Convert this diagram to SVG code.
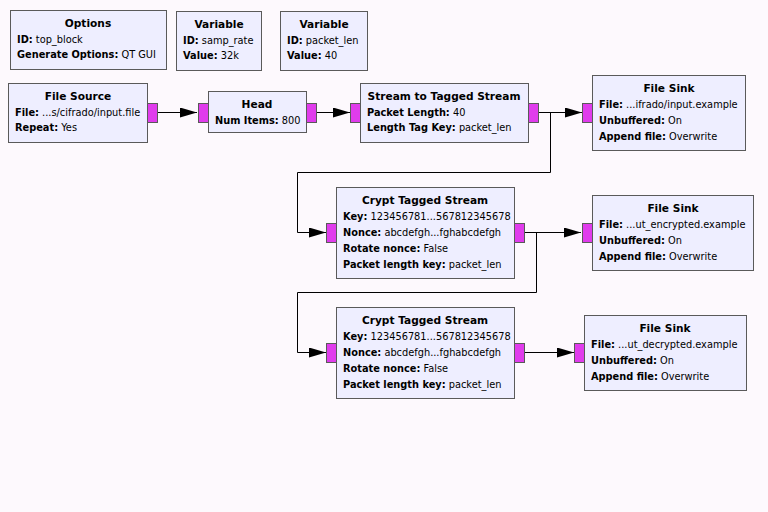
<svg xmlns="http://www.w3.org/2000/svg" width="768" height="512" viewBox="0 0 768 512">
<style>
.blk{fill:#eeeeff;stroke:#5a5a5a;stroke-width:1}
.port{fill:#e03cec;stroke:#5a5a5a;stroke-width:1}
text{font-family:"DejaVu Sans",sans-serif;font-size:9.8px;fill:#000}
.t{font-weight:bold;text-anchor:middle;font-size:10.6px}
.b{font-weight:bold}
.w{fill:none;stroke:#000;stroke-width:1}
</style>
<defs>
<marker id="ar" markerWidth="17" markerHeight="10" refX="17" refY="5" orient="auto" markerUnits="userSpaceOnUse">
<path d="M0,0 L17,5 L0,10 Z" fill="#000"/>
</marker>
</defs>
<rect width="768" height="512" fill="#fdf9fd"/>
<g id="connectors">
<path class="w" d="M157,112.5 H197" marker-end="url(#ar)"/>
<path class="w" d="M316,112.5 H350" marker-end="url(#ar)"/>
<path class="w" d="M539,112.5 H582" marker-end="url(#ar)"/>
<path class="w" d="M550.5,112.5 V172.5 H297.5 V232.5 H326" marker-end="url(#ar)"/>
<path class="w" d="M524,232.5 H581" marker-end="url(#ar)"/>
<path class="w" d="M536.5,232.5 V292.5 H297.5 V352.5 H326" marker-end="url(#ar)"/>
<path class="w" d="M524,352.5 H574" marker-end="url(#ar)"/>
</g>
<g id="options">
<rect class="blk" x="10.5" y="10.5" width="156" height="59"/>
<text class="t" x="88" y="27">Options</text>
<text x="17" y="43"><tspan class="b">ID:</tspan> top_block</text>
<text x="17" y="58"><tspan class="b">Generate Options:</tspan> QT GUI</text>
</g>
<g id="var_samp_rate">
<rect class="blk" x="176.5" y="11.5" width="85" height="59"/>
<text class="t" x="219" y="28">Variable</text>
<text x="183" y="44"><tspan class="b">ID:</tspan> samp_rate</text>
<text x="183" y="59"><tspan class="b">Value:</tspan> 32k</text>
</g>
<g id="var_packet_len">
<rect class="blk" x="280.5" y="11.5" width="87" height="59"/>
<text class="t" x="324" y="28">Variable</text>
<text x="287" y="44"><tspan class="b">ID:</tspan> packet_len</text>
<text x="287" y="59"><tspan class="b">Value:</tspan> 40</text>
</g>
<g id="file_source">
<rect class="blk" x="8.5" y="83.5" width="139" height="59"/>
<rect class="port" x="147.5" y="103.5" width="10" height="19"/>
<text class="t" x="78" y="100">File Source</text>
<text x="15" y="116"><tspan class="b">File:</tspan> ...s/cifrado/input.file</text>
<text x="15" y="131"><tspan class="b">Repeat:</tspan> Yes</text>
</g>
<g id="head">
<rect class="blk" x="208.5" y="91.5" width="98" height="41"/>
<rect class="port" x="198.5" y="103.5" width="10" height="19"/>
<rect class="port" x="306.5" y="103.5" width="10" height="19"/>
<text class="t" x="257" y="108">Head</text>
<text x="215" y="124"><tspan class="b">Num Items:</tspan> 800</text>
</g>
<g id="stream_to_tagged">
<rect class="blk" x="360.5" y="83.5" width="168" height="59"/>
<rect class="port" x="350.5" y="103.5" width="10" height="19"/>
<rect class="port" x="528.5" y="103.5" width="10" height="19"/>
<text class="t" x="444" y="100">Stream to Tagged Stream</text>
<text x="367" y="116"><tspan class="b">Packet Length:</tspan> 40</text>
<text x="367" y="131"><tspan class="b">Length Tag Key:</tspan> packet_len</text>
</g>
<g id="file_sink_0">
<rect class="blk" x="592.5" y="75.5" width="153" height="75"/>
<rect class="port" x="582.5" y="103.5" width="10" height="19"/>
<text class="t" x="669" y="92">File Sink</text>
<text x="599" y="108"><tspan class="b">File:</tspan> ...ifrado/input.example</text>
<text x="599" y="124"><tspan class="b">Unbuffered:</tspan> On</text>
<text x="599" y="140"><tspan class="b">Append file:</tspan> Overwrite</text>
</g>
<g id="crypt_0">
<rect class="blk" x="336.5" y="187.5" width="178" height="91"/>
<rect class="port" x="326.5" y="223.5" width="10" height="19"/>
<rect class="port" x="514.5" y="223.5" width="10" height="19"/>
<text class="t" x="425" y="204">Crypt Tagged Stream</text>
<text x="343" y="220"><tspan class="b">Key:</tspan> 123456781...567812345678</text>
<text x="343" y="236"><tspan class="b">Nonce:</tspan> abcdefgh...fghabcdefgh</text>
<text x="343" y="252"><tspan class="b">Rotate nonce:</tspan> False</text>
<text x="343" y="268"><tspan class="b">Packet length key:</tspan> packet_len</text>
</g>
<g id="file_sink_1">
<rect class="blk" x="592.5" y="195.5" width="161" height="75"/>
<rect class="port" x="582.5" y="223.5" width="10" height="19"/>
<text class="t" x="673" y="212">File Sink</text>
<text x="599" y="228"><tspan class="b">File:</tspan> ...ut_encrypted.example</text>
<text x="599" y="244"><tspan class="b">Unbuffered:</tspan> On</text>
<text x="599" y="260"><tspan class="b">Append file:</tspan> Overwrite</text>
</g>
<g id="crypt_1">
<rect class="blk" x="336.5" y="307.5" width="178" height="91"/>
<rect class="port" x="326.5" y="343.5" width="10" height="19"/>
<rect class="port" x="514.5" y="343.5" width="10" height="19"/>
<text class="t" x="425" y="324">Crypt Tagged Stream</text>
<text x="343" y="340"><tspan class="b">Key:</tspan> 123456781...567812345678</text>
<text x="343" y="356"><tspan class="b">Nonce:</tspan> abcdefgh...fghabcdefgh</text>
<text x="343" y="372"><tspan class="b">Rotate nonce:</tspan> False</text>
<text x="343" y="388"><tspan class="b">Packet length key:</tspan> packet_len</text>
</g>
<g id="file_sink_2">
<rect class="blk" x="584.5" y="315.5" width="162" height="75"/>
<rect class="port" x="574.5" y="343.5" width="10" height="19"/>
<text class="t" x="665" y="332">File Sink</text>
<text x="591" y="348"><tspan class="b">File:</tspan> ...ut_decrypted.example</text>
<text x="591" y="364"><tspan class="b">Unbuffered:</tspan> On</text>
<text x="591" y="380"><tspan class="b">Append file:</tspan> Overwrite</text>
</g>
</svg>
